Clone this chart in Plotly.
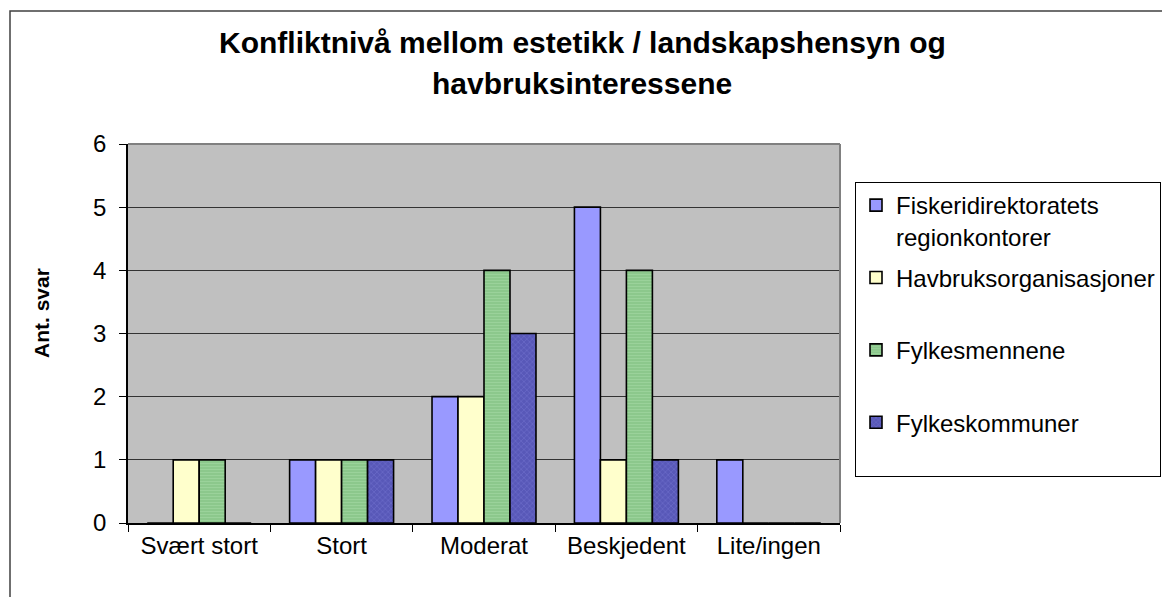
import plotly.graph_objects as go

categories = ["Svært stort", "Stort", "Moderat", "Beskjedent", "Lite/ingen"]
series_names = [
    "Fiskeridirektoratets<br>regionkontorer",
    "Havbruksorganisasjoner<br>\u00a0",
    "Fylkesmennene<br>\u00a0",
    "Fylkeskommuner<br>\u00a0",
]
fiskeri = [0, 1, 2, 5, 1]
havbruk = [1, 1, 2, 1, 0]
fylkesmenn = [1, 1, 4, 4, 0]
fylkeskommuner = [0, 1, 3, 1, 0]
y_ticks = [0, 1, 2, 3, 4, 5, 6]

title_lines = ["Konfliktnivå mellom estetikk / landskapshensyn og", "havbruksinteressene"]
y_title = "Ant. svar"

FONT = "Liberation Sans, Arial, sans-serif"

# page body has an 8px margin; screen positions below are shifted by it
OFF = 8
W, H = 1170, 597
L, R, T, B = 128 - OFF, 840 - OFF, 144 - OFF, 523 - OFF
pw, ph = R - L, B - T

def px_x(p):
    return (p - OFF - L) / pw

def px_y(p):
    return (B - (p - OFF)) / ph

styles = [
    dict(color="#9999FF"),
    dict(color="#FFFFCC"),
    dict(color="#8CC88C", pattern=dict(shape="-", fillmode="overlay", fgcolor="#A8DCA8", size=3, solidity=0.35)),
    dict(color="#5858B8", pattern=dict(shape="x", fillmode="overlay", fgcolor="#8080D8", size=4, solidity=0.3)),
]

fig = go.Figure()
for i, (name, vals, st) in enumerate(zip(series_names, [fiskeri, havbruk, fylkesmenn, fylkeskommuner], styles)):
    marker = dict(line=dict(color="black", width=1.6), **st)
    fig.add_trace(go.Bar(x=categories, y=vals, name=name, marker=marker, legendgroup=f"g{i}"))

fig.update_layout(
    width=W, height=H,
    margin=dict(l=L, r=W - R, t=T, b=H - B, pad=0, autoexpand=False),
    paper_bgcolor="white",
    plot_bgcolor="#C0C0C0",
    barmode="group",
    bargap=0.27,
    bargroupgap=0,
    font=dict(family=FONT, size=24, color="black"),
    showlegend=True,
    legend=dict(
        x=px_x(855), y=px_y(182), xanchor="left", yanchor="top",
        bordercolor="black", borderwidth=1, bgcolor="white",
        font=dict(family=FONT, size=24, color="black"),
        traceorder="grouped", tracegroupgap=7, valign="top",
    ),
    xaxis=dict(
        showline=True, linecolor="black", linewidth=1.5,
        ticks="outside", tickson="boundaries", ticklen=7, tickcolor="black", tickwidth=1.2,
        showgrid=False, tickfont=dict(size=24),
    ),
    yaxis=dict(
        range=[0, 6], tickvals=y_ticks, ticktext=[str(v) for v in y_ticks],
        showline=True, linecolor="black", linewidth=1.5,
        ticks="outside", ticklen=7, tickcolor="black", tickwidth=1.2,
        showgrid=True, gridcolor="#333333", gridwidth=1,
        zeroline=False, tickfont=dict(size=24), ticklabelstandoff=8,
    ),
)

for line, cy in zip(title_lines, [43, 83]):
    fig.add_annotation(
        text="<b>" + line + "</b>", x=px_x(582), y=px_y(cy),
        xref="paper", yref="paper", xanchor="center", yanchor="middle",
        showarrow=False, font=dict(family=FONT, size=30, color="black"),
    )

fig.add_annotation(
    text="<b>" + y_title + "</b>", textangle=-90,
    x=px_x(41), y=px_y(313), xref="paper", yref="paper",
    xanchor="center", yanchor="middle",
    showarrow=False, font=dict(family=FONT, size=21, color="black"),
)

# plot-area gray border (top and right)
fig.add_shape(type="line", xref="paper", yref="paper", x0=0, x1=1, y0=1, y1=1,
              line=dict(color="#808080", width=2), layer="above")
fig.add_shape(type="line", xref="paper", yref="paper", x0=1, x1=1, y0=0, y1=1,
              line=dict(color="#808080", width=2), layer="above")

# outer chart border
fig.add_shape(type="rect", xref="paper", yref="paper",
              x0=px_x(10), x1=px_x(1200), y0=px_y(620), y1=px_y(11),
              line=dict(color="#404040", width=1.5), fillcolor="rgba(0,0,0,0)", layer="below")

fig.write_html("out.html")
